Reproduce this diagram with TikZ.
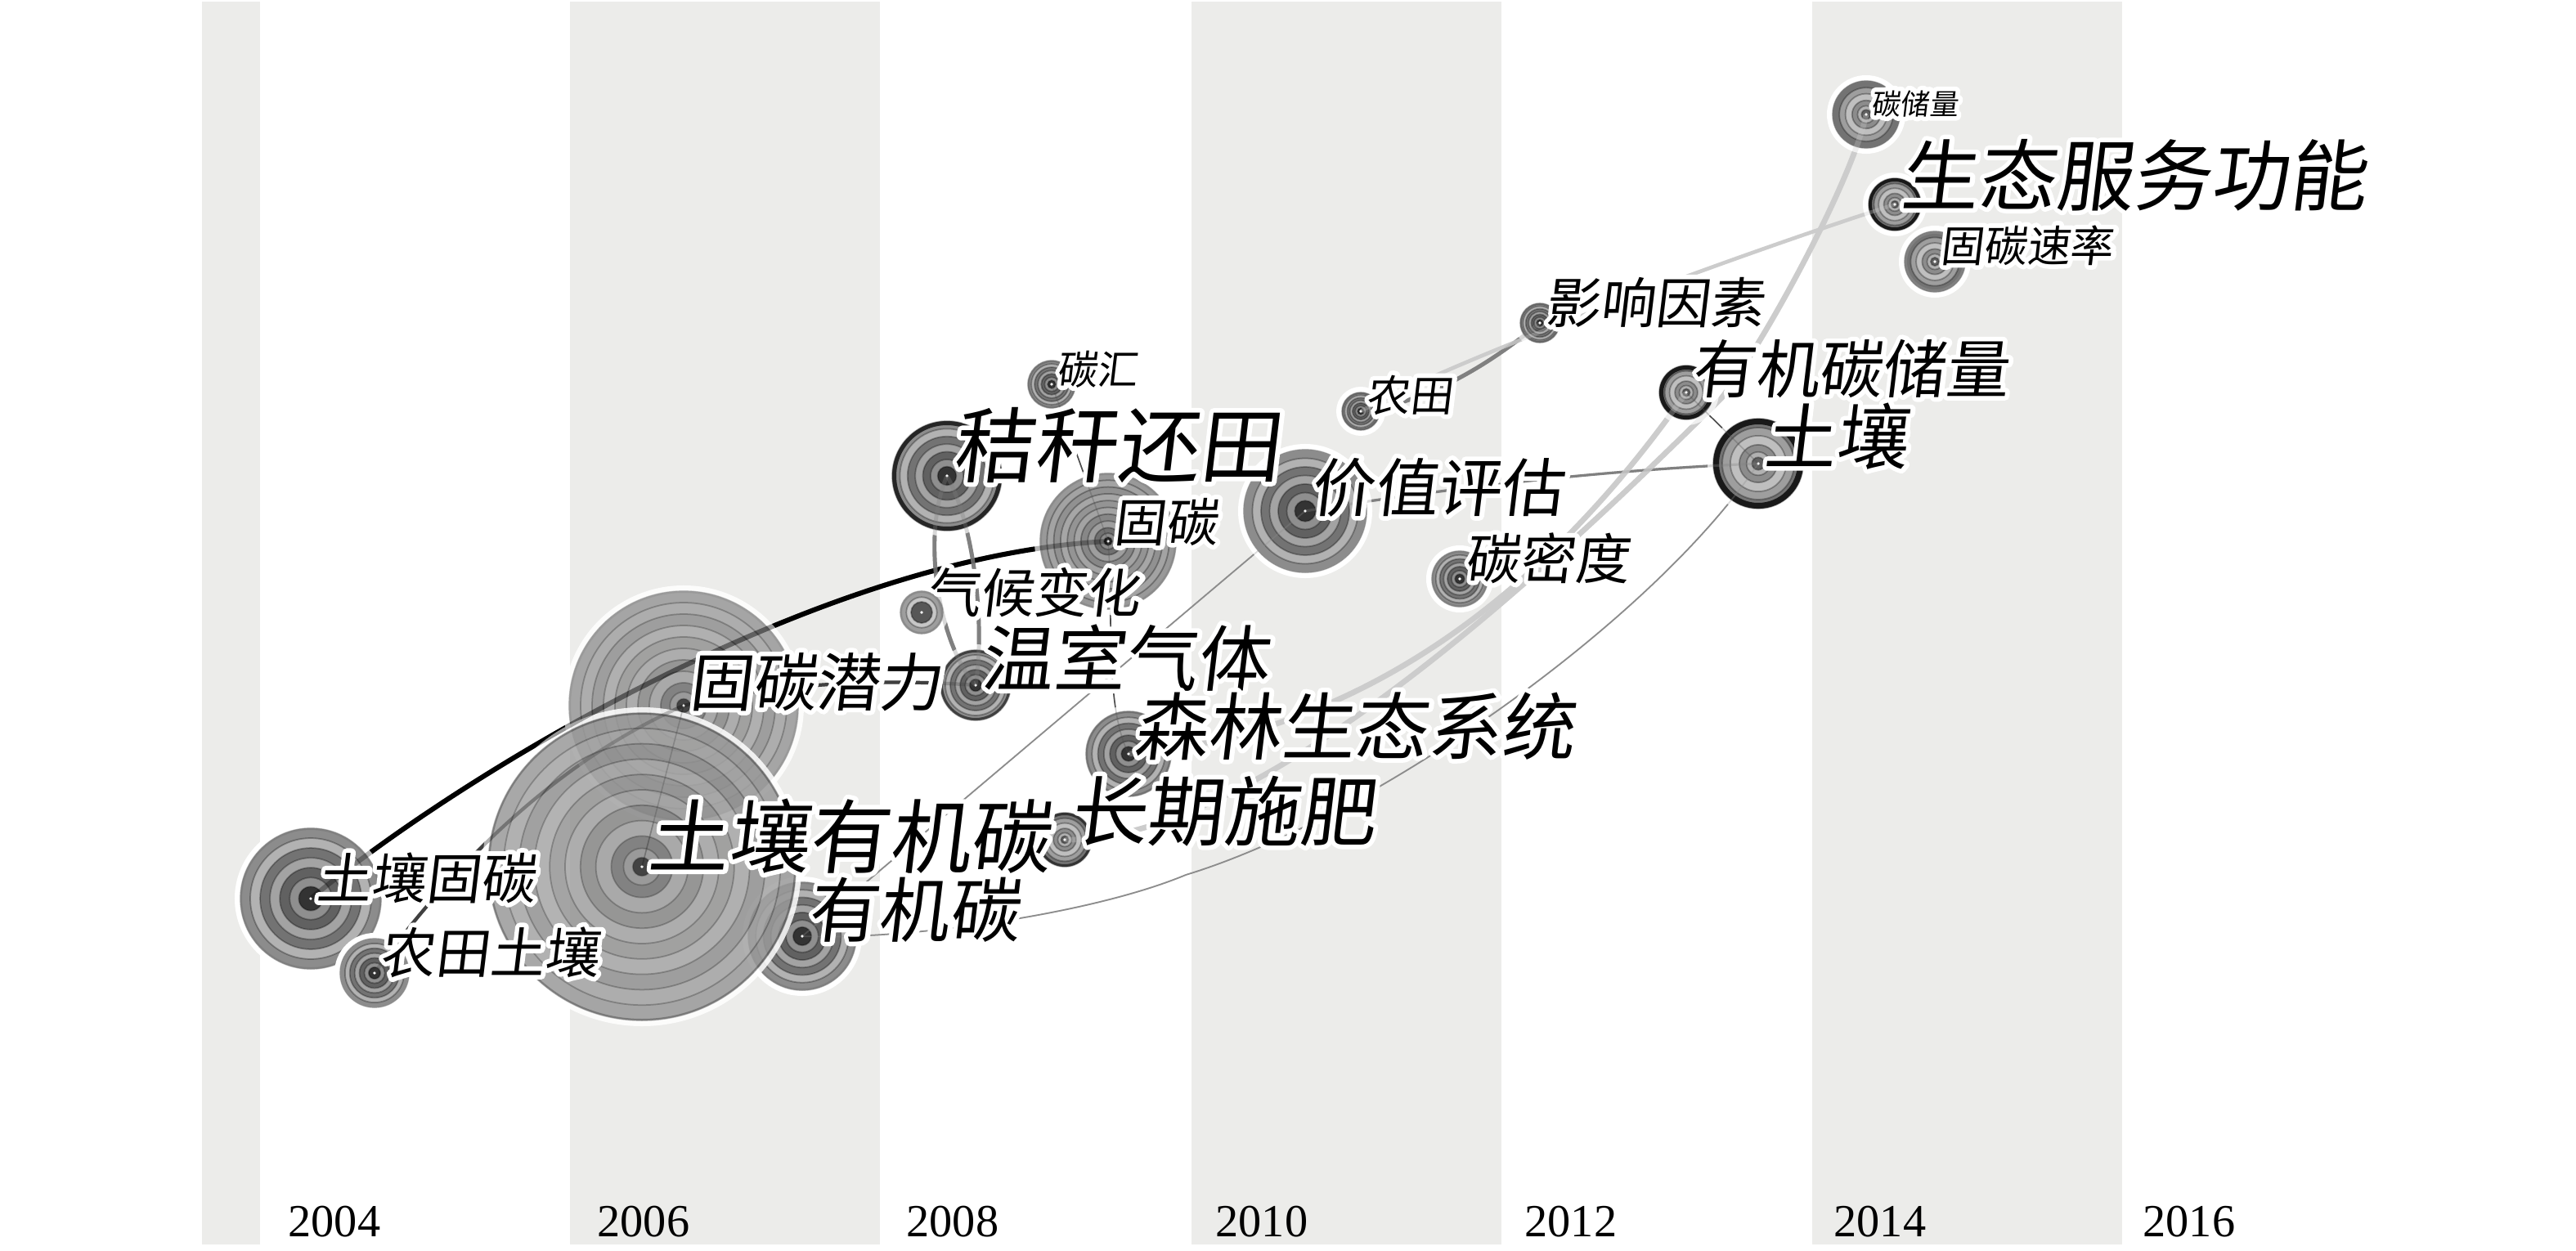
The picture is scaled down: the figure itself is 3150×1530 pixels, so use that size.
\documentclass[tikz,border=0pt]{standalone}
\usepackage{fontspec}
\setmainfont{Liberation Serif}
\newfontfamily\cjk[FakeSlant=0.12]{Noto Sans CJK SC}
\usepackage{tikz}

\definecolor{stripe}{RGB}{236,236,234}

% ring palettes (fraction of radius / colour), outer to inner
\def\palA{1/black!45,0.86/black!30,0.72/black!55,0.58/black!36,0.44/black!62,0.3/black!44,0.17/black!80}
\def\palB{1/black!55,0.8/black!38,0.62/black!25,0.42/black!45,0.26/black!30,0.14/black!62}
\def\palC{1/black!40,0.9/black!36,0.8/black!43,0.7/black!35,0.6/black!42,0.5/black!36,0.4/black!47,0.3/black!38,0.2/black!56,0.12/black!45,0.06/black!85}
\def\palD{1/black!38,0.72/black!22,0.5/black!66}

\tikzset{
  hub/.style={inner sep=0pt, minimum size=0pt},
  kwtext/.style={anchor=base west, inner sep=0pt, xshift=0.06cm},
  kwhalo/.style={kwtext, text=white},
  year/.style={anchor=base west, inner sep=0pt, font=\fontsize{16pt}{16pt}\selectfont},
  linkhot/.style={black, line width=1.7pt},
  linkdark/.style={black!75, line width=1.2pt},
  linkmid/.style={black!50, line width=1.4pt},
  linkfine/.style={black!70, line width=0.45pt},
  linkfaint/.style={black!45, line width=0.5pt},
  linkpale/.style={black!20, line width=1.9pt},
}

% node rings: node, radius (px), palette, rim colour, rim width (px)
\newcommand{\treering}[5]{%
  \draw[white, line width=2pt] (#1) circle[radius=#2*0.01cm+0.035cm];
  \foreach \f/\c in #3 {
    \fill[\c] (#1) circle[radius=\f*#2*0.01cm];
    \draw[black, opacity=0.3, line width=0.5pt] (#1) circle[radius=\f*#2*0.01cm];
  }
  \draw[#4, line width=#5*0.2845pt] (#1) circle[radius=#2*0.01cm-#5*0.005cm];
  \fill[white] (#1) circle[radius=0.018cm];
}

% keyword label with white outline: node, size, text, name
\newcommand{\kwlabel}[4]{%
  \node[kwhalo, font=\cjk\fontsize{#2}{#2}\selectfont]
    at (#1) {\special{pdf:literal direct 2 Tr 3.2 w 1 j}#3\special{pdf:literal direct 0 Tr}};
  \node[kwtext, font=\cjk\fontsize{#2}{#2}\selectfont] (#4) at (#1) {#3};
}

% co-occurrence links
\newcommand{\links}{%
  \draw[linkhot] (soilseq) .. controls (560,950) and (1000,680) .. (seq);
  \draw[linkdark] (farmsoil) .. controls (530,1090) and (660,940) .. (seqpot);
  \draw[linkdark] (seqpot) .. controls (950,835) and (1080,830) .. (ghg);
  \draw[linkfine] (seqpot) -- (soc);
  \draw[linkmid] (straw) .. controls (1125,660) and (1150,790) .. (ghg);
  \draw[linkmid] (straw) .. controls (1190,640) and (1205,760) .. (ghg);
  \draw[linkfine] (sink) -- (seq);
  \draw[linkfine] (seq) .. controls (1362,750) and (1350,860) .. (forest);
  \draw[linkfaint] (oc) -- (value);
  \draw[linkfaint] (oc) .. controls (1100,1150) and (1330,1120) .. (ocbend)
                        .. controls (1680,1000) and (2020,760) .. (soil);
  \draw[linkmid, line width=0.9pt] (value) .. controls (1750,600) and (1950,575) .. (soil);
  \draw[linkpale] (fert) .. controls (1550,1030) and (1930,660) .. (fertbend)
                         .. controls (2160,415) and (2265,220) .. (cstock);
  \draw[linkpale] (forest) .. controls (1650,900) and (1880,740) .. (ocstock);
  \draw[linkmid] (farm) .. controls (1760,490) and (1840,430) .. (factor);
  \draw[linkpale, line width=1.3pt] (farm) .. controls (1780,440) and (2100,320) .. (ecoserv);
  \draw[linkfine] (ocstock) -- (soil);
}

\begin{document}
\begin{tikzpicture}[x=0.01cm, y=-0.01cm]
  \useasboundingbox (0,0) rectangle (3150,1530);

  % Year stripes
  \foreach \xa/\xb in {247/318, 697/1076, 1457/1836, 2216/2595}
    \fill[stripe] (\xa,2) rectangle (\xb,1522);
  \node[year] (y2004) at (352,1512) {2004};
  \node[year] (y2006) at (730,1512) {2006};
  \node[year] (y2008) at (1108,1512) {2008};
  \node[year] (y2010) at (1486,1512) {2010};
  \node[year] (y2012) at (1864,1512) {2012};
  \node[year] (y2014) at (2242,1512) {2014};
  \node[year] (y2016) at (2620,1512) {2016};

  % Keyword nodes
  \node[hub] (soilseq) at (380,1099) {};
  \node[hub] (farmsoil) at (458,1190) {};
  \node[hub] (soc) at (785,1060) {};
  \node[hub] (seqpot) at (836,863) {};
  \node[hub] (oc) at (981,1145) {};
  \node[hub] (straw) at (1158,582) {};
  \node[hub] (sink) at (1286,470) {};
  \node[hub] (seq) at (1355,662) {};
  \node[hub] (climate) at (1127,749) {};
  \node[hub] (ghg) at (1193,838) {};
  \node[hub] (forest) at (1380,922) {};
  \node[hub] (fert) at (1302,1027) {};
  \node[hub] (value) at (1596,625) {};
  \node[hub] (farm) at (1664,503) {};
  \node[hub] (factor) at (1883,395) {};
  \node[hub] (density) at (1785,708) {};
  \node[hub] (ocstock) at (2062,480) {};
  \node[hub] (soil) at (2150,567) {};
  \node[hub] (cstock) at (2282,140) {};
  \node[hub] (ecoserv) at (2317,250) {};
  \node[hub] (seqrate) at (2366,320) {};
  \coordinate (ocbend) at (1450,1070);
  \coordinate (fertbend) at (2105,487);

  % Links under the rings
  \links

  % Rings
  \treering{sink}{29}{\palA}{black!55}{2}
  \treering{straw}{67}{\palA}{black!85}{5}
  \treering{seq}{83}{\palC}{black!45}{2}
  \treering{climate}{26}{\palD}{black!45}{2}
  \treering{ghg}{43}{\palA}{black!75}{3}
  \treering{forest}{52}{\palA}{black!55}{2}
  \treering{fert}{33}{\palB}{black!80}{3}
  \treering{value}{75}{\palA}{black!45}{2}
  \treering{farm}{23}{\palA}{black!60}{2}
  \treering{factor}{24}{\palA}{black!60}{2}
  \treering{density}{34}{\palA}{black!50}{2}
  \treering{ocstock}{33}{\palB}{black!90}{5}
  \treering{soil}{55}{\palB}{black!90}{7}
  \treering{cstock}{41}{\palB}{black!55}{2}
  \treering{ecoserv}{32}{\palB}{black!90}{4}
  \treering{seqrate}{37}{\palB}{black!50}{3}
  \treering{soilseq}{86}{\palA}{black!50}{2}
  \treering{farmsoil}{42}{\palA}{black!45}{2}
  \begin{scope}[transparency group, opacity=0.85]
    \treering{seqpot}{140}{\palC}{black!45}{2}
  \end{scope}
  \treering{oc}{66}{\palA}{black!50}{2}
  \begin{scope}[transparency group, opacity=0.85]
    \treering{soc}{188}{\palC}{black!60}{2}
  \end{scope}

  % Links seen through the rings
  \begin{scope}[opacity=0.3]
    \links
  \end{scope}

  % Labels
  \kwlabel{soilseq}{19pt}{土壤固碳}{soilseq-t}
  \kwlabel{farmsoil}{19pt}{农田土壤}{farmsoil-t}
  \kwlabel{seqpot}{22pt}{固碳潜力}{seqpot-t}
  \kwlabel{soc}{28pt}{土壤有机碳}{soc-t}
  \kwlabel{oc}{24.5pt}{有机碳}{oc-t}
  \kwlabel{straw}{28.5pt}{秸秆还田}{straw-t}
  \kwlabel{sink}{14pt}{碳汇}{sink-t}
  \kwlabel{seq}{18pt}{固碳}{seq-t}
  \kwlabel{climate}{18.5pt}{气候变化}{climate-t}
  \kwlabel{ghg}{25pt}{温室气体}{ghg-t}
  \kwlabel{forest}{25.5pt}{森林生态系统}{forest-t}
  \kwlabel{fert}{26.5pt}{长期施肥}{fert-t}
  \kwlabel{value}{22pt}{价值评估}{value-t}
  \kwlabel{farm}{15pt}{农田}{farm-t}
  \kwlabel{factor}{19pt}{影响因素}{factor-t}
  \kwlabel{density}{19pt}{碳密度}{density-t}
  \kwlabel{ocstock}{22pt}{有机碳储量}{ocstock-t}
  \kwlabel{soil}{25pt}{土壤}{soil-t}
  \kwlabel{cstock}{10pt}{碳储量}{cstock-t}
  \kwlabel{ecoserv}{27pt}{生态服务功能}{ecoserv-t}
  \kwlabel{seqrate}{15pt}{固碳速率}{seqrate-t}
\end{tikzpicture}
\end{document}
